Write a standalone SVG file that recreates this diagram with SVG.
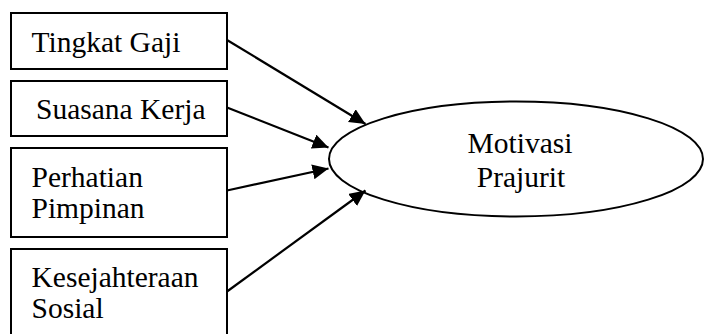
<svg xmlns="http://www.w3.org/2000/svg" width="704" height="334" viewBox="0 0 704 334">
<defs>
<style>
.box{fill:#fff;stroke:#000;stroke-width:2}
.lbl{font-family:"Liberation Serif","Times New Roman",serif;font-size:29.5px;fill:#000}
.edge{stroke:#000;stroke-width:2.2;fill:none;marker-end:url(#ah)}
</style>
<marker id="ah" markerUnits="userSpaceOnUse" markerWidth="18" markerHeight="16" refX="16" refY="7.5" orient="auto">
<path d="M0,0 L16,7.5 L0,15 z" fill="#000"/>
</marker>
</defs>
<rect width="704" height="334" fill="#fff"/>
<g id="n1">
<rect class="box" x="11" y="13" width="216" height="56"/>
<text class="lbl" x="31.5" y="51.5">Tingkat Gaji</text>
</g>
<g id="n2">
<rect class="box" x="11" y="81" width="216" height="55"/>
<text class="lbl" x="36" y="118.5">Suasana Kerja</text>
</g>
<g id="n3">
<rect class="box" x="11" y="148" width="216" height="89"/>
<text class="lbl" x="31.5" y="186.5">Perhatian</text>
<text class="lbl" x="31.5" y="217.5">Pimpinan</text>
</g>
<g id="n4">
<rect class="box" x="11" y="249" width="216" height="90"/>
<text class="lbl" x="31.5" y="286.5">Kesejahteraan</text>
<text class="lbl" x="31.5" y="317.5">Sosial</text>
</g>
<g id="n5">
<ellipse class="box" cx="516" cy="159" rx="187" ry="57.5"/>
<text class="lbl" x="520" y="152.5" text-anchor="middle">Motivasi</text>
<text class="lbl" x="521" y="187" text-anchor="middle">Prajurit</text>
</g>
<g id="connectors">
<line class="edge" x1="227" y1="40" x2="365.5" y2="124"/>
<line class="edge" x1="227" y1="107.5" x2="328.5" y2="147.5"/>
<line class="edge" x1="227" y1="190.5" x2="328.5" y2="168.5"/>
<line class="edge" x1="227" y1="291.5" x2="365.5" y2="190.5"/>
</g>
</svg>
